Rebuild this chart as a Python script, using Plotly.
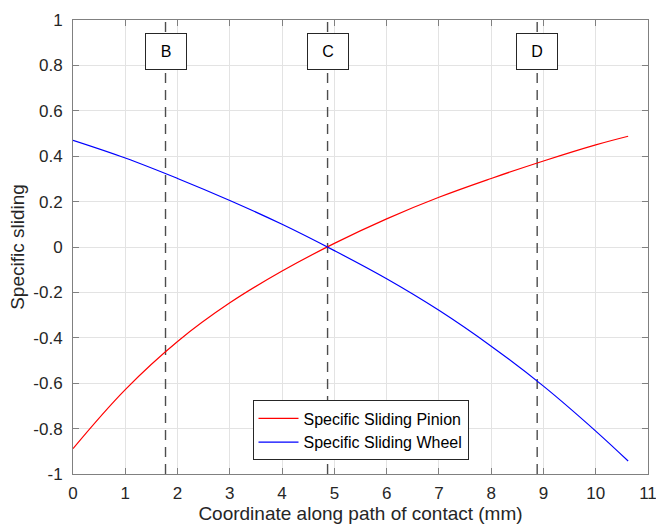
import plotly.graph_objects as go

# Data
x_pts = [0, 1, 2, 3, 4, 5, 6, 7, 8, 9, 10, 10.62]
pinion = [-0.888, -0.628, -0.416, -0.246, -0.106, 0.016, 0.124, 0.219, 0.302, 0.379, 0.450, 0.488]
wheel = [0.470, 0.392, 0.302, 0.205, 0.100, -0.016, -0.140, -0.279, -0.437, -0.613, -0.811, -0.943]

marker_x = [1.77, 4.87, 8.88]
marker_labels = ["B", "C", "D"]
marker_label_y = 0.862

x_ticks = list(range(0, 12))
y_ticks = [-1, -0.8, -0.6, -0.4, -0.2, 0, 0.2, 0.4, 0.6, 0.8, 1]
y_tick_text = ["-1", "-0.8", "-0.6", "-0.4", "-0.2", "0", "0.2", "0.4", "0.6", "0.8", "1"]

FONT = "Liberation Sans, Arial, sans-serif"

fig = go.Figure()

for xm in marker_x:
    fig.add_trace(go.Scatter(
        x=[xm, xm], y=[-1, 1], mode="lines",
        line=dict(color="#4d4d4d", width=1.4, dash="10px,7px"),
        showlegend=False, hoverinfo="skip"))

fig.add_trace(go.Scatter(
    x=x_pts, y=pinion, mode="lines", name="Specific Sliding Pinion",
    line=dict(color="#ff0000", width=1.2, shape="spline", smoothing=1.1)))
fig.add_trace(go.Scatter(
    x=x_pts, y=wheel, mode="lines", name="Specific Sliding Wheel",
    line=dict(color="#0000ff", width=1.2, shape="spline", smoothing=1.1)))

for xm, lab in zip(marker_x, marker_labels):
    fig.add_annotation(
        x=xm, y=marker_label_y, xref="x", yref="y", text=lab, showarrow=False,
        font=dict(family=FONT, size=16, color="#000000"),
        bgcolor="#ffffff", bordercolor="#262626", borderwidth=1, borderpad=0,
        width=40, height=35, align="center", valign="middle")

axis_common = dict(
    showline=True, linecolor="#808080", linewidth=1, mirror="ticks",
    ticks="inside", ticklen=6, tickcolor="#808080", tickwidth=1,
    showgrid=True, gridcolor="#e3e3e3", gridwidth=1, zeroline=False,
    tickfont=dict(family=FONT, size=17, color="#262626"),
    automargin=False, ticklabeloverflow="allow",
)

fig.update_xaxes(
    range=[0, 11], tickvals=x_ticks, ticktext=[str(v) for v in x_ticks],
    title=dict(text="Coordinate along path of contact (mm)",
               font=dict(family=FONT, size=19, color="#262626"), standoff=4),
    ticklabelstandoff=4,
    **axis_common)
fig.update_yaxes(
    range=[-1, 1], tickvals=y_ticks, ticktext=y_tick_text,
    title=dict(text="Specific sliding",
               font=dict(family=FONT, size=19, color="#262626"), standoff=3),
    ticklabelstandoff=6,
    **axis_common)

fig.update_layout(
    width=656, height=527,
    margin=dict(l=73, r=8, t=20, b=53),
    paper_bgcolor="#ffffff", plot_bgcolor="#ffffff",
    showlegend=True,
    legend=dict(x=0.5, y=0.03, xanchor="center", yanchor="bottom",
                bgcolor="#ffffff", bordercolor="#262626", borderwidth=1,
                font=dict(family=FONT, size=16, color="#000000"),
                tracegroupgap=0, itemwidth=40),
)

fig.write_html("out.html")
